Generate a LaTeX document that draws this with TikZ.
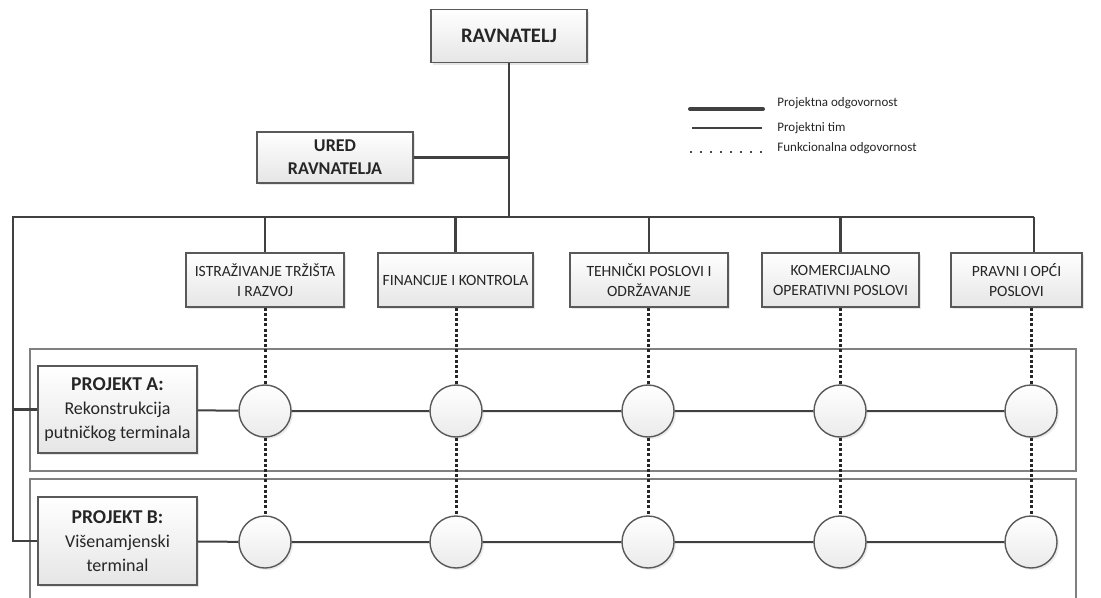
\documentclass[tikz,border=0pt]{standalone}
\usepackage{fontspec}
\setmainfont{Carlito}
\usetikzlibrary{calc,backgrounds,shadows}

\begin{document}
\begin{tikzpicture}[%
    x=0.5pt,y=-0.5pt,%
    every node/.style={text=black!85},%
    box/.style={draw=black!65, line width=0.7pt, top color=white, bottom color=black!10,%
      drop shadow={opacity=0.2, shadow xshift=1.2pt, shadow yshift=-1.2pt},%
      inner sep=0pt, align=center, font=\fontsize{7.8}{10}\selectfont},%
    circ/.style={circle, draw=black!65, line width=0.7pt, top color=white, bottom color=black!8,%
      drop shadow={opacity=0.15, shadow xshift=1pt, shadow yshift=-1pt},%
      inner sep=0pt, minimum size=26pt},%
    hier/.style={draw=black!75, line width=1.1pt},%
    team/.style={draw=black!75, line width=1pt},%
    func/.style={draw=black!85, line width=1.5pt, dash pattern=on 1.5pt off 1.1pt},%
    frame/.style={draw=black!50, line width=0.6pt},%
    legtext/.style={font=\fontsize{6.5}{7}\selectfont, anchor=west, inner sep=0pt}%
  ]
  \useasboundingbox (0,0) rectangle (1101,598);

  %
  % Razine
  %
  \pgfmathsetmacro{\xbus}{13};%
  \pgfmathsetmacro{\ybus}{217};%
  \pgfmathsetmacro{\ya}{411};%
  \pgfmathsetmacro{\yb}{542};%
  \pgfmathsetmacro{\yd}{280};%

  % Okviri projekata
  \draw[frame] (30,349) rectangle (1076,471);
  \draw[frame] (30,610) -- (30,479) -- (1076,479) -- (1076,610);

  %
  % Uprava
  %
  \node[box, font=\bfseries\fontsize{10.3}{12}\selectfont, minimum width=78pt, minimum height=26.5pt]
    (R) at (509,36) {RAVNATELJ};
  \node[box, font=\bfseries\fontsize{9}{11.5}\selectfont, minimum width=78pt, minimum height=25.5pt]
    (U) at (335,157.5) {URED\\RAVNATELJA};

  % Sektori
  \node[box, minimum width=79pt, minimum height=27pt] (D1) at (265,\yd) {ISTRAŽIVANJE TRŽIŠTA\\I RAZVOJ};
  \node[box, minimum width=77.5pt, minimum height=27pt] (D2) at (455.5,\yd) {FINANCIJE I KONTROLA};
  \node[box, minimum width=79pt, minimum height=27pt] (D3) at (649,\yd) {TEHNIČKI POSLOVI I\\ODRŽAVANJE};
  \node[box, minimum width=78.5pt, minimum height=27pt] (D4) at (840.5,\yd) {KOMERCIJALNO\\OPERATIVNI POSLOVI};
  \node[box, minimum width=65.5pt, minimum height=27pt] (D5) at (1016.5,\yd) {PRAVNI I OPĆI\\POSLOVI};

  % Projekti
  \node[box, font=\fontsize{9}{12}\selectfont, minimum width=79.5pt, minimum height=43.5pt]
    (PA) at (117.5,409.5) {{\bfseries\fontsize{9.8}{12}\selectfont PROJEKT A:}\\Rekonstrukcija\\putničkog terminala};
  \node[box, font=\fontsize{9}{12}\selectfont, minimum width=79.5pt, minimum height=44pt]
    (PB) at (117.5,541) {{\bfseries\fontsize{9.8}{12}\selectfont PROJEKT B:}\\Višenamjenski\\terminal};

  % Članovi timova
  \foreach \x/\i in {265/1,456/2,648/3,840/4,1031/5}{%
    \node[circ] (A\i) at (\x,\ya) {};
    \node[circ] (B\i) at (\x,\yb) {};
  }

  %
  % Veze
  %
  \coordinate (busL) at (\xbus,\ybus);
  \coordinate (busR) at (1034,\ybus);
  \draw[hier] (R.south) -- (R.south |- busL);
  \draw[hier] (U.east) -- (U.east -| R.south);
  \draw[hier] (busR) -- (busL) |- (PB.west);
  \draw[hier] (busL |- PA) -- (PA.west);
  \foreach \i in {1,...,4}{%
    \draw[hier] (D\i.north |- busL) -- (D\i.north);
  }
  \draw[hier] (busR) -- (busR |- D5.north);

  % Projektni timovi
  \draw[team] (PA) -- (A1) -- (A2) -- (A3) -- (A4) -- (A5);
  \draw[team] (PB) -- (B1) -- (B2) -- (B3) -- (B4) -- (B5);

  % Funkcionalna odgovornost
  \foreach \i in {1,...,5}{%
    \draw[func] (A\i |- D\i.south) -- (A\i);
    \draw[func] (A\i) -- (B\i);
  }

  %
  % Legenda
  %
  \coordinate (L1) at (690,109);
  \coordinate (L2) at (692,128);
  \coordinate (L3) at (690,152);
  \draw[draw=black!75, line width=2pt, line cap=round] (L1) -- ++(73,0);
  \draw[draw=black!75, line width=0.6pt] (L2) -- ++(70,0);
  \draw[draw=black!70, line width=1pt, dash pattern=on 1pt off 4pt] (L3) -- ++(72,0);
  \node[legtext] (T1) at (777,103) {Projektna odgovornost};
  \node[legtext] (T2) at (777,128) {Projektni tim};
  \node[legtext] (T3) at (777,148) {Funkcionalna odgovornost};

\end{tikzpicture}
\end{document}
